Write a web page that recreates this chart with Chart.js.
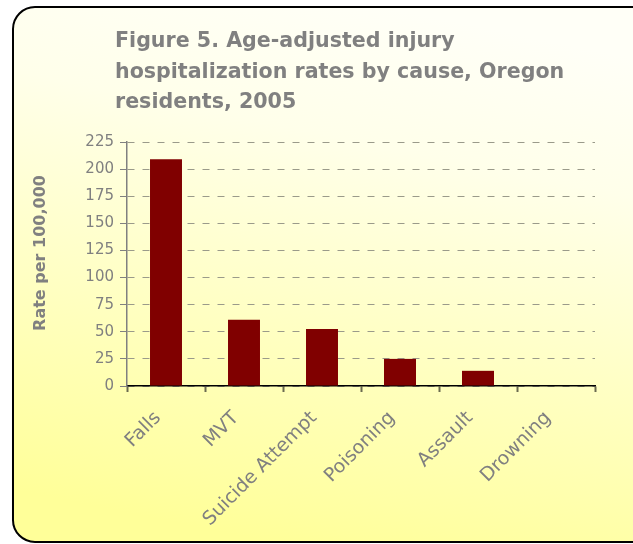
<!DOCTYPE html>
<html>
<head>
<meta charset="utf-8">
<script src="https://cdn.jsdelivr.net/npm/chart.js@4.4.1/dist/chart.umd.min.js"></script>
<style>
  html, body { margin: 0; padding: 0; background: #fff; }
  #wrap { width: 633px; height: 544px; position: relative; }
</style>
</head>
<body>
<div id="wrap"><canvas id="grafico" width="633" height="544"></canvas></div>
<script>
// dados
const causas = ['Falls', 'MVT', 'Suicide Attempt', 'Poisoning', 'Assault', 'Drowning'];
const taxas = [209, 61, 52.5, 25, 14, 0];
const tituloLinhas = ['Figure 5. Age-adjusted injury', 'hospitalization rates by cause, Oregon', 'residents, 2005'];
const tituloEixoY = 'Rate per 100,000';

const cinza = '#808080';
const fonte = '"DejaVu Sans", Verdana, sans-serif';

// fundo com borda arredondada e degradê, título e nome do eixo y
const fundo = {
  id: 'fundo',
  beforeDraw(chart) {
    const ctx = chart.ctx;
    ctx.save();
    const g = ctx.createLinearGradient(380, 6, 270, 542);
    g.addColorStop(0, '#FFFFF7');
    g.addColorStop(0.25, '#FFFFEA');
    g.addColorStop(1, '#FFFF99');
    ctx.beginPath();
    ctx.roundRect(13, 7, 660, 535, 22);
    ctx.fillStyle = g;
    ctx.fill();
    ctx.lineWidth = 2;
    ctx.strokeStyle = '#000';
    ctx.stroke();
    ctx.restore();
  },
  afterDraw(chart) {
    const ctx = chart.ctx;
    ctx.save();
    ctx.font = 'bold 20.6px ' + fonte;
    ctx.fillStyle = cinza;
    ctx.textBaseline = 'alphabetic';
    tituloLinhas.forEach((linha, i) => ctx.fillText(linha, 115, 47 + i * 30.5));
    // nome do eixo y, girado
    ctx.translate(41, 253);
    ctx.rotate(-Math.PI / 2);
    ctx.font = 'bold 16px ' + fonte;
    ctx.textAlign = 'center';
    ctx.textBaseline = 'middle';
    ctx.fillText(tituloEixoY, 0, 0);
    ctx.restore();
  }
};

new Chart(document.getElementById('grafico'), {
  type: 'bar',
  data: {
    labels: causas,
    datasets: [{
      data: taxas,
      backgroundColor: '#800000',
      borderWidth: 0,
      barPercentage: 0.82,
      categoryPercentage: 0.5
    }]
  },
  options: {
    responsive: false,
    animation: false,
    layout: { padding: { left: 26, right: 38, top: 142, bottom: 0 } },
    plugins: { legend: { display: false }, tooltip: { enabled: false } },
    scales: {
      x: {
        z: 1,
        grid: { display: true, drawOnChartArea: false, drawTicks: true, tickLength: 6, tickColor: '#6b6b50', tickWidth: 2, offset: true },
        border: { display: true, color: '#000', width: 1.5 },
        ticks: {
          color: cinza, minRotation: 45, maxRotation: 45, padding: 15, labelOffset: -8,
          font: { family: fonte, size: 19 }
        },
        afterFit(scale) { scale.height = 158; }
      },
      y: {
        min: 0, max: 225,
        ticks: {
          stepSize: 25, color: cinza, padding: 6,
          font: { family: fonte, size: 15 }
        },
        grid: { color: '#9a9a8a', lineWidth: 1, tickLength: 7, tickColor: cinza, tickBorderDash: [] },
        border: { display: true, color: cinza, width: 1.5, dash: [7, 8] },
        afterFit(scale) { scale.width = 101; }
      }
    }
  },
  plugins: [fundo]
});
</script>
</body>
</html>
